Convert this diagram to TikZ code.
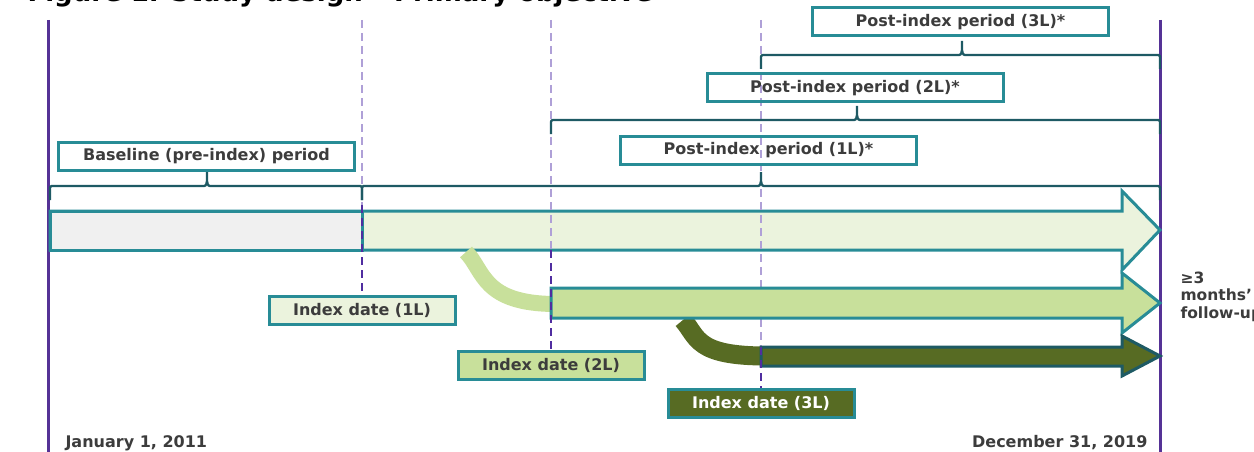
\documentclass[tikz,border=0pt]{standalone}
\usepackage{fontspec}
\setmainfont{DejaVu Sans}
\usetikzlibrary{positioning}

\definecolor{boxteal}{RGB}{40,140,150}
\definecolor{bracedark}{RGB}{30,90,100}
\definecolor{linepurple}{RGB}{85,50,150}
\definecolor{dashlight}{RGB}{175,160,215}
\definecolor{dashdark}{RGB}{80,45,160}
\definecolor{greenpale}{RGB}{235,243,221}
\definecolor{greenmid}{RGB}{200,224,155}
\definecolor{greendark}{RGB}{87,107,35}
\definecolor{greybase}{RGB}{240,240,240}
\definecolor{textgray}{RGB}{60,60,60}

% left x, tip x, right x, line y
\newcommand{\periodbrace}[4]{%
  \draw[bracestyle] (#1,#4+14) -- (#1,#4+4) .. controls (#1,#4) .. (#1+4,#4)
    -- (#2-5,#4) .. controls (#2-1,#4) .. (#2,#4-5) -- (#2,#4-14)
    (#2,#4-5) .. controls (#2+1,#4) .. (#2+5,#4) -- (#3-4,#4)
    .. controls (#3,#4) .. (#3,#4+4) -- (#3,#4+14);}

\begin{document}
\begin{tikzpicture}[x=1pt,y=-1pt,
    every node/.style={font=\bfseries\fontsize{16}{19}\selectfont,text=textgray},
    periodbox/.style={draw=boxteal,line width=3pt,minimum width=296pt,minimum height=28pt,inner sep=0pt},
    indexbox/.style={draw=boxteal,line width=3pt,minimum width=186pt,minimum height=28pt,inner sep=0pt},
    bracestyle/.style={draw=bracedark,line width=2.3pt,line join=round},
    timeline/.style={draw=linepurple,line width=3pt},
    lightdash/.style={draw=dashlight,line width=2.5pt,dash pattern=on 8pt off 5pt},
    darkdash/.style={draw=dashdark,line width=2.5pt,dash pattern=on 8pt off 5pt},
    bar/.style={draw=boxteal,line width=3pt,line join=miter},
    switchline/.style={line width=#1}]
  \useasboundingbox (0,0) rectangle (1254,452);

  % title, cut by the page edge
  \node[anchor=base west,font=\bfseries\fontsize{26}{30}\selectfont,text=black] (title) at (24,1.5)
    {Figure 1. Study design -- Primary objective};

  % study window
  \draw[timeline] (48,20) -- (48,452);
  \draw[timeline] (1160,20) -- (1160,452);

  % 1L bar
  \draw[bar,fill=greenpale] (50,211) -- (1122,211) -- (1122,191) -- (1160,230)
    -- (1122,270) -- (1122,250) -- (50,250) -- cycle;
  \draw[bar,fill=greybase] (50,211) rectangle (362,250);

  % index date lines
  \draw[lightdash] (362,20) -- (362,205);
  \draw[lightdash] (551,20) -- (551,250);
  \draw[lightdash] (761,20) -- (761,347);

  % line switches
  \draw[switchline=16pt,greenmid] (466,252) .. controls (484,270) and (482,304) .. (556,304);
  \draw[switchline=19pt,greendark] (683,320) .. controls (698,337) and (695,356) .. (766,356);

  % 2L and 3L bars
  \draw[bar,fill=greenmid] (551,288) -- (1122,288) -- (1122,273) -- (1160,303)
    -- (1122,333) -- (1122,318) -- (551,318) -- cycle;
  \draw[bar,draw=bracedark,fill=greendark] (761,347) -- (1122,347) -- (1122,336) -- (1160,356)
    -- (1122,376) -- (1122,366) -- (761,366) -- cycle;

  % index dates
  \node[indexbox,fill=greenpale] (idx1) at (362,310.5) {Index date (1L)};
  \node[indexbox,fill=greenmid] (idx2) at (551,365.5) {Index date (2L)};
  \node[indexbox,fill=greendark,text=white] (idx3) at (761,403) {Index date (3L)};
  \draw[darkdash] (362,205) -- (idx1.north);
  \draw[darkdash] (551,250) -- (idx2.north);
  \draw[darkdash] (761,347) -- (idx3.north);

  % periods
  \node[periodbox] (base) at (206.5,156) {Baseline (pre-index) period};
  \node[periodbox] (post1) at (768.5,150.5) {Post-index period (1L)*};
  \node[periodbox] (post2) at (855,88) {Post-index period (2L)*};
  \node[periodbox] (post3) at (960.5,22) {Post-index period (3L)*};
  \periodbrace{50}{207}{362}{186}
  \periodbrace{362}{761}{1160}{186}
  \periodbrace{551}{857}{1160}{120}
  \periodbrace{761}{962}{1160}{55}

  % dates and follow-up
  \node[anchor=base west] (start) at (62,447) {January 1, 2011};
  \node[anchor=base east] (end) at (1151,447) {December 31, 2019};
  \node[anchor=base west,align=left,font=\bfseries\fontsize{15.5}{17.5}\selectfont] (fu) at (1177,318)
    {≥3\\months’\\follow-up};
\end{tikzpicture}
\end{document}
